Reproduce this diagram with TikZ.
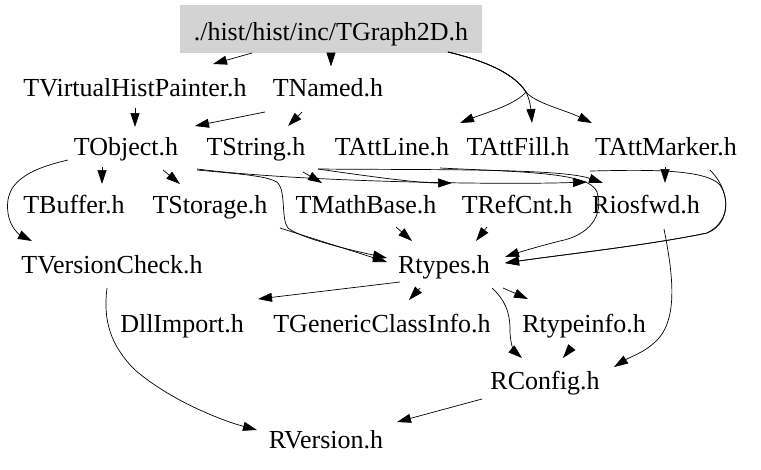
\documentclass[tikz,border=0pt]{standalone}
\usepackage{fontspec}
\setmainfont{Liberation Serif}
\usetikzlibrary{arrows.meta,calc}
\definecolor{rootgray}{RGB}{211,211,211}
\begin{document}
\begin{tikzpicture}[x=1pt,y=-1pt,
  hfile/.style={inner sep=0pt,text height=18pt,text depth=6pt,font=\fontsize{26}{30}\selectfont},
  incl/.style={black,line width=0.7pt,-{Triangle[length=14pt,width=9pt]}}]
\useasboundingbox (0,0) rectangle (761,469);
\node [hfile,fill=rootgray,minimum width=302pt,minimum height=48pt,text height=24pt,text depth=2pt] (root) at (331,29) {./hist/hist/inc/TGraph2D.h};
\node [hfile] (tvhp) at (135,90.5) {TVirtualHistPainter.h};
\node [hfile] (tnamed) at (328,90.5) {TNamed.h};
\node [hfile] (tobject) at (126,149) {TObject.h};
\node [hfile] (tstring) at (256,149) {TString.h};
\node [hfile] (tattline) at (392,149) {TAttLine.h};
\node [hfile] (tattfill) at (518,149) {TAttFill.h};
\node [hfile] (tattmarker) at (666,149) {TAttMarker.h};
\node [hfile] (tbuffer) at (74,207) {TBuffer.h};
\node [hfile] (tstorage) at (210,207) {TStorage.h};
\node [hfile] (tmathbase) at (366,207) {TMathBase.h};
\node [hfile] (trefcnt) at (517,207) {TRefCnt.h};
\node [hfile] (riosfwd) at (646,207) {Riosfwd.h};
\node [hfile] (tversioncheck) at (112,267) {TVersionCheck.h};
\node [hfile] (rtypes) at (444,267) {Rtypes.h};
\node [hfile] (dllimport) at (182,326) {DllImport.h};
\node [hfile] (tgenericclassinfo) at (382,326) {TGenericClassInfo.h};
\node [hfile] (rtypeinfo) at (584,326) {Rtypeinfo.h};
\node [hfile] (rconfig) at (545,383) {RConfig.h};
\node [hfile] (rversion) at (326,442) {RVersion.h};
\draw [incl] ($(root)+(-79,24)$) -- ($(tvhp)+(78,-26.5)$);
\draw [incl] (root.south) -- ($(tnamed)+(3,-24)$);
\draw [incl] ($(root)+(117,23)$) .. controls (490,62) and (515,75) .. (526,92) .. controls (515,105) and (485,113) .. ($(tattline)+(68,-26)$);
\draw [incl] ($(root)+(117,23)$) .. controls (490,62) and (515,75) .. (526,92) .. controls (530,100) and (531,110) .. ($(tattfill)+(14,-26)$);
\draw [incl] ($(root)+(117,23)$) .. controls (490,62) and (515,75) .. (526,92) .. controls (535,103) and (565,110) .. ($(tattmarker)+(-74,-26)$);
\draw [incl] ($(tvhp)+(0,17.5)$) -- ($(tobject)+(9,-22)$);
\draw [incl] ($(tnamed)+(-63,21.5)$) -- ($(tobject)+(69,-23)$);
\draw [incl] ($(tnamed)+(-26,21.5)$) -- ($(tstring)+(32,-23)$);
\draw [incl] ($(tobject)+(-24,18)$) -- ($(tbuffer)+(28,-23)$);
\draw [incl] ($(tobject)+(37,21)$) -- ($(tstorage)+(-30,-23)$);
\draw [incl] ($(tobject)+(-58,11)$) .. controls (15,172) and (5,190) .. (8,213) .. controls (10,228) and (20,235) .. ($(tversioncheck)+(-80,-26)$);
\draw [incl] ($(tobject)+(71,21)$) .. controls (240,174) and (270,176) .. (278,183) .. controls (286,192) and (281,220) .. (288,228) .. controls (300,238) and (350,250) .. ($(rtypes)+(-57,-9)$);
\draw [incl] ($(tstorage)+(70,21)$) -- ($(rtypes)+(-57,-5)$);
\draw [incl] ($(tobject)+(71,20)$) .. controls (300,182) and (500,185) .. ($(riosfwd)+(-59,-25)$);
\draw [incl] ($(tstring)+(47,23)$) -- ($(tmathbase)+(-44,-24)$);
\draw [incl] ($(tstring)+(62,20)$) .. controls (380,178) and (420,183) .. ($(trefcnt)+(-65,-24)$);
\draw [incl] ($(tstring)+(62,20)$) .. controls (420,170) and (560,168) .. ($(riosfwd)+(-43,-24)$);
\draw [incl] ($(tattline)+(48,19)$) .. controls (520,172) and (590,172) .. (597,192) .. controls (604,215) and (590,235) .. (560,241) .. controls (540,246) and (520,252) .. ($(rtypes)+(61,-10)$);
\draw [incl] ($(tattfill)+(72,22)$) .. controls (640,170) and (705,168) .. (720,185) .. controls (730,200) and (728,225) .. (707,233) .. controls (650,245) and (560,255) .. ($(rtypes)+(61,-4)$);
\draw [incl] ($(tattmarker)+(44,21)$) .. controls (730,190) and (733,220) .. (707,233) .. controls (650,245) and (560,255) .. ($(rtypes)+(61,-4)$);
\draw [incl] ($(tattmarker)+(-1,18)$) -- ($(riosfwd)+(19,-24)$);
\draw [incl] ($(tmathbase)+(30,20)$) -- ($(rtypes)+(-32,-26)$);
\draw [incl] ($(trefcnt)+(-30,20)$) -- ($(rtypes)+(32,-26)$);
\draw [incl] ($(rtypes)+(-44,15)$) -- ($(dllimport)+(76,-27)$);
\draw [incl] ($(rtypes)+(-24,21)$) -- ($(tgenericclassinfo)+(27,-26)$);
\draw [incl] ($(rtypes)+(59,21)$) -- ($(rtypeinfo)+(-56,-27)$);
\draw [incl] ($(rtypes)+(48,21)$) .. controls (505,300) and (510,312) .. (510,330) .. controls (510,345) and (515,352) .. ($(rconfig)+(-23,-25)$);
\draw [incl] ($(rtypeinfo)+(-12,21)$) -- ($(rconfig)+(18,-25)$);
\draw [incl] ($(riosfwd)+(18,22)$) .. controls (672,270) and (680,320) .. (655,342) .. controls (645,352) and (630,357) .. ($(rconfig)+(69,-16)$);
\draw [incl] ($(rconfig)+(-63,16)$) -- ($(rversion)+(71,-20)$);
\draw [incl] ($(tversioncheck)+(-5,21)$) .. controls (103,320) and (110,345) .. (135,370) .. controls (170,400) and (220,420) .. ($(rversion)+(-69,-12)$);
\end{tikzpicture}
\end{document}
